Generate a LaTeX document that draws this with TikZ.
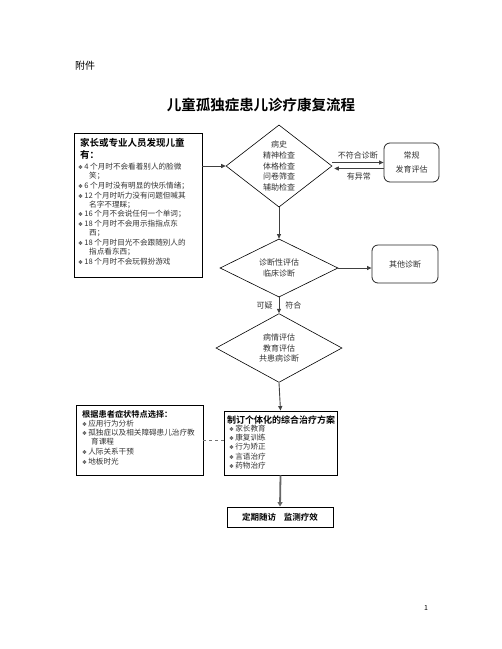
\documentclass[tikz,border=0pt]{standalone}
\usepackage{fontspec}
\setmainfont{Noto Sans CJK SC}[BoldFont={Noto Sans CJK SC Bold}]
\newfontfamily\symfont{DejaVu Sans}
\usetikzlibrary{shapes.geometric,arrows.meta}
\newcommand{\bul}{{\symfont\fontsize{5.5}{5.5}\selectfont ❖}\hspace{1.2pt}}
\begin{document}
\begin{tikzpicture}[x=1pt,y=-1pt,
  box/.style={draw=black,line width=0.9pt,inner sep=0pt},
  dia/.style={diamond,draw=black,line width=0.6pt,inner sep=0pt,align=center,font=\fontsize{8}{10.7}\selectfont,text=black!80},
  rbox/.style={draw=black!85,line width=0.8pt,rounded corners=6pt,inner sep=0pt,align=center,font=\fontsize{8}{14}\selectfont,text=black!80},
  arr/.style={draw=black!75,line width=0.9pt,-{Triangle[length=4.5pt,width=4pt]}},
  lbl/.style={font=\fontsize{8}{9}\selectfont,text=black!80,inner sep=0pt},
  ln/.style={anchor=west,inner sep=0pt,font=\fontsize{7.6}{8}\selectfont,text=black!80},
  hd/.style={anchor=west,inner sep=0pt,font=\fontsize{9}{10}\selectfont\bfseries},
]
\fill[white] (0,0) rectangle (502,649);
\useasboundingbox (0,0) rectangle (502,649);

% header
\node[inner sep=0pt,font=\fontsize{10}{12}\selectfont] (fj) at (85,66) {附件};
\node[inner sep=0pt,font=\fontsize{14.5}{16}\selectfont\bfseries] (title) at (261,105) {儿童孤独症患儿诊疗康复流程};
\node[inner sep=0pt,font=\fontsize{7}{8}\selectfont] (pg) at (426,608) {1};

% box 1
\node[box,minimum width=128pt,minimum height=144pt] (b1) at (138,205) {};
\node[hd,font=\fontsize{9.5}{10}\selectfont\bfseries] (b1h1) at (80,143) {家长或专业人员发现儿童};
\node[hd,font=\fontsize{9.5}{10}\selectfont\bfseries] (b1h2) at (80,155) {有：};
\foreach \yy/\xx/\tt [count=\i] in {
  167/78/{\bul 4 个月时不会看着别人的脸微},
  176/89/{笑；},
  186/78/{\bul 6 个月时没有明显的快乐情绪；},
  196/78/{\bul 12 个月时听力没有问题但喊其},
  205/89/{名字不理睬；},
  214/78/{\bul 16 个月不会说任何一个单词；},
  224/78/{\bul 18 个月时不会用示指指点东},
  233/89/{西；},
  243/78/{\bul 18 个月时目光不会跟随别人的},
  252/89/{指点看东西；},
  262/78/{\bul 18 个月时不会玩假扮游戏}}
  \node[ln] (b1l\i) at (\xx,\yy) {\tt};

% diamonds
\node[dia,minimum width=106pt,minimum height=78pt] (d1) at (279,166) {病史\\精神检查\\体格检查\\问卷筛查\\辅助检查};
\node[dia,minimum width=118pt,minimum height=43pt] (d2) at (279,268) {诊断性评估\\临床诊断};
\node[dia,minimum width=126pt,minimum height=51pt] (d3) at (279,348) {病情评估\\教育评估\\共患病诊断};

% rounded boxes
\node[rbox,minimum width=55pt,minimum height=39pt] (r1) at (411.5,162.5) {常规\\发育评估};
\node[rbox,minimum width=66pt,minimum height=38pt] (r2) at (405,264) {其他诊断};

% box 2
\node[box,minimum width=127pt,minimum height=70pt] (b2) at (139.5,440) {};
\node[hd,font=\fontsize{8.2}{9}\selectfont\bfseries] (b2h) at (82,414) {根据患者症状特点选择：};
\foreach \yy/\xx/\tt [count=\i] in {
  424/82/{\bul 应用行为分析},
  433/82/{\bul 孤独症以及相关障碍患儿治疗教},
  442/91/{育课程},
  452/82/{\bul 人际关系干预},
  462/82/{\bul 地板时光}}
  \node[ln] (b2l\i) at (\xx,\yy) {\tt};

% box 3
\node[box,minimum width=113pt,minimum height=64pt] (b3) at (280.5,443) {};
\node[hd,font=\fontsize{9}{10}\selectfont\bfseries] (b3h) at (227,420) {制订个体化的综合治疗方案};
\foreach \yy/\tt [count=\i] in {
  429/{\bul 家长教育},
  438/{\bul 康复训练},
  447/{\bul 行为矫正},
  457/{\bul 言语治疗},
  466/{\bul 药物治疗}}
  \node[ln] (b3l\i) at (229,\yy) {\tt};

% box 4
\node[box,minimum width=106pt,minimum height=20pt,font=\fontsize{8.5}{10}\selectfont\bfseries] (b4) at (280,517) {定期随访\hspace{8pt}监测疗效};

% connectors
\draw[arr] (b1.east |- d1.west) -- (d1.west);
\draw[arr] ([yshift=3.5pt]d1.east) -- ([yshift=3.5pt]d1.east -| r1.west) node[lbl,midway,above=3pt] (lb1) {不符合诊断};
\draw[arr] ([yshift=-2.5pt]d1.east -| r1.west) -- ([yshift=-2.5pt,xshift=2pt]d1.east) node[lbl,midway,below=4pt] (lb2) {有异常};
\draw[arr] (d1.south) -- (d2.north);
\draw[arr] (d2.east) -- (d2.east -| r2.west);
\draw[arr] (d2.south) -- (d3.north)
  node[lbl,pos=0.5,left=6pt] (lb3) {可疑}
  node[lbl,pos=0.5,right=6pt] (lb4) {符合};
\draw[arr] (d3.south) -- (b3.north);
\draw[draw=black!55,line width=0.9pt,dashed] (b2.east) -- (b2.east -| b3.west);
\draw[draw=black!60,line width=1.8pt,-{Triangle[length=4.5pt,width=5pt]}] (b3.south) -- (b4.north);
\end{tikzpicture}
\end{document}
